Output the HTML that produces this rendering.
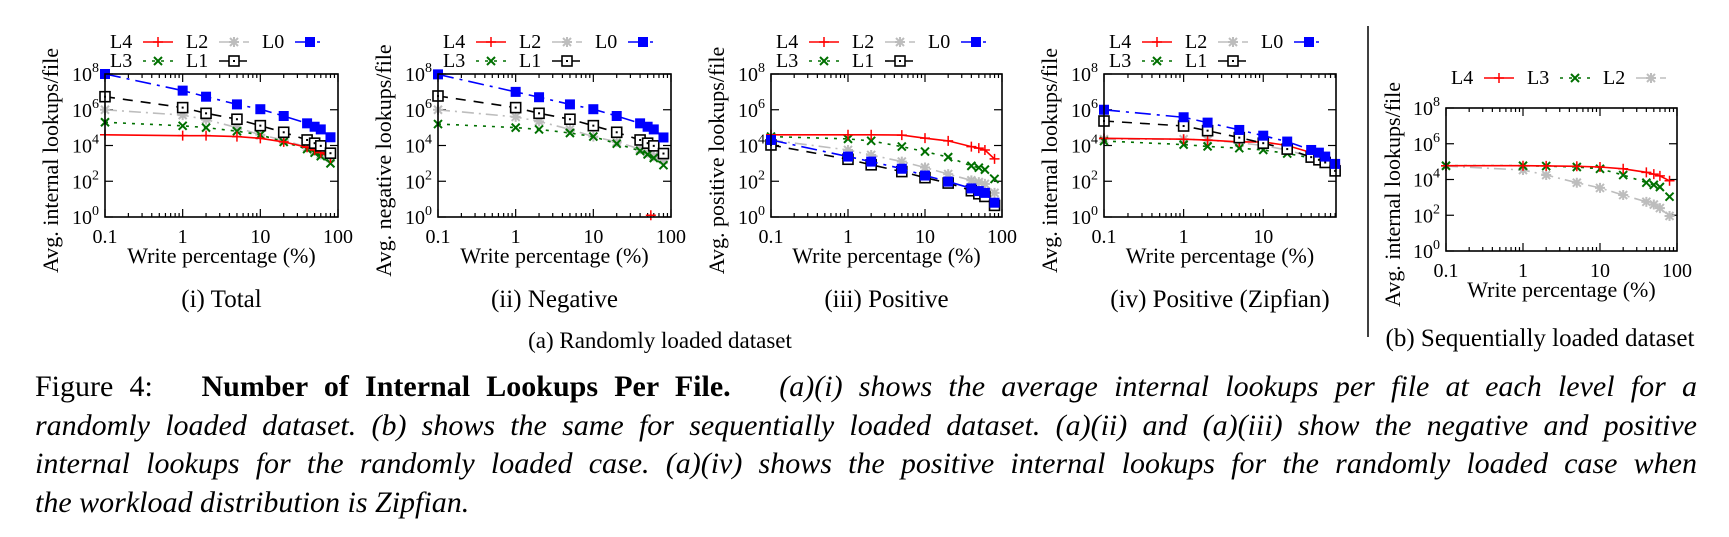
<!DOCTYPE html>
<html><head><meta charset="utf-8">
<style>
body{margin:0;background:#fff;width:1729px;height:537px;overflow:hidden;position:relative;font-family:"Liberation Serif","Times New Roman","DejaVu Serif","Noto Serif CJK SC",serif;}
svg{position:absolute;left:0;top:0;}
.cap{position:absolute;left:35px;width:1662px;font-size:30px;line-height:30px;white-space:nowrap;text-align:justify;text-align-last:justify;}
.cap.last{text-align-last:left;}
</style></head>
<body>
<svg id="fig" width="1729" height="537"></svg>
<div class="cap" style="top:372px">Figure 4: &nbsp; <b>Number of Internal Lookups Per File.</b> &nbsp; <i>(a)(i) shows the average internal lookups per file at each level for a</i></div>
<div class="cap" style="top:411px"><i>randomly loaded dataset. (b) shows the same for sequentially loaded dataset. (a)(ii) and (a)(iii) show the negative and positive</i></div>
<div class="cap" style="top:449px"><i>internal lookups for the randomly loaded case. (a)(iv) shows the positive internal lookups for the randomly loaded case when</i></div>
<div class="cap last" style="top:488px"><i>the workload distribution is Zipfian.</i></div>
<script>
// data (log10 of lookups/file)
const writePct = [0.1,1,2,5,10,20,40,50,60,80];
const yTicks = [0,2,4,6,8];
const xTickLabels = ["0.1","1","10","100"];
const total_L4 = [4.6,4.55,4.55,4.5,4.4,4.2,3.9,3.75,3.6,3.3];
const total_L3 = [5.3,5.1,5.0,4.8,4.6,4.2,3.8,3.6,3.4,3.0];
const total_L2 = [6.0,5.7,5.45,5.0,4.6,4.3,3.9,3.7,3.5,3.3];
const total_L1 = [6.73,6.12,5.8,5.47,5.11,4.74,4.31,4.13,3.98,3.57];
const total_L0 = [8.0,7.07,6.73,6.3,6.03,5.65,5.24,5.05,4.9,4.46];
const neg_L4x = [55];
const neg_L4 = [0.1];
const neg_L3 = [5.2,5.0,4.9,4.7,4.5,4.1,3.7,3.5,3.3,2.9];
const neg_L2 = [6.0,5.6,5.35,4.9,4.5,4.2,3.8,3.6,3.4,3.2];
const neg_L1 = [6.77,6.12,5.8,5.47,5.11,4.74,4.31,4.13,3.98,3.55];
const neg_L0 = [7.98,7.0,6.7,6.3,6.03,5.65,5.24,5.05,4.9,4.45];
const pos_L4 = [4.6,4.6,4.6,4.58,4.41,4.26,3.94,3.85,3.75,3.25];
const pos_L3 = [4.5,4.37,4.26,3.94,3.66,3.35,2.86,2.76,2.65,2.13];
const pos_L2 = [4.3,3.75,3.47,3.1,2.77,2.4,2.05,1.95,1.85,1.35];
const pos_L1 = [4.03,3.23,2.92,2.54,2.2,1.9,1.47,1.3,1.15,0.65];
const pos_L0 = [4.31,3.38,3.1,2.7,2.32,1.98,1.6,1.45,1.35,0.8];
const zipf_L4 = [4.4,4.35,4.3,4.2,4.2,4.0,3.6,3.5,3.35,2.95];
const zipf_L3 = [4.25,4.05,3.95,3.85,3.75,3.55,3.3,3.15,3.0,2.6];
const zipf_L2 = [4.35,4.35,4.3,4.15,4.0,3.75,3.35,3.2,3.05,2.6];
const zipf_L1 = [5.37,5.09,4.83,4.44,4.13,3.8,3.35,3.2,3.05,2.58];
const zipf_L0 = [6.0,5.58,5.28,4.87,4.55,4.22,3.75,3.6,3.38,2.97];
const seq_L4 = [4.77,4.77,4.76,4.74,4.7,4.6,4.4,4.3,4.2,3.93];
const seq_L3 = [4.77,4.77,4.75,4.7,4.6,4.25,3.82,3.7,3.58,3.04];
const seq_L2 = [4.75,4.53,4.25,3.82,3.53,3.13,2.75,2.6,2.4,1.96];

const NS="http://www.w3.org/2000/svg";
const svg=document.getElementById('fig');
const FONT='"Liberation Serif", "Times New Roman", "DejaVu Serif", "Noto Serif CJK SC", serif';
function mk(tag,attrs,parent){const e=document.createElementNS(NS,tag);for(const k in attrs)e.setAttribute(k,attrs[k]);
 if(tag==='text'){e.setAttribute('font-family',FONT);e.style.fontFamily=FONT;}
 (parent||svg).appendChild(e);return e;}
const styles={
 L4:{color:'#ff0000',dash:'',marker:'plus'},
 L3:{color:'#007000',dash:'3,6',marker:'cross'},
 L2:{color:'#bdbdbd',dash:'12,5,2,5',marker:'star'},
 L1:{color:'#000000',dash:'10,8',marker:'osq'},
 L0:{color:'#0000ff',dash:'16,6,3,6',marker:'fsq'}
};
function marker(g,type,x,y,c){
 if(type==='plus'){mk('path',{d:`M${x-5} ${y}H${x+5}M${x} ${y-5}V${y+5}`,stroke:c,'stroke-width':1.5},g);}
 else if(type==='cross'){mk('path',{d:`M${x-4} ${y-4}L${x+4} ${y+4}M${x-4} ${y+4}L${x+4} ${y-4}`,stroke:c,'stroke-width':2},g);}
 else if(type==='star'){mk('path',{d:`M${x-5} ${y}H${x+5}M${x} ${y-5}V${y+5}M${x-4} ${y-4}L${x+4} ${y+4}M${x-4} ${y+4}L${x+4} ${y-4}`,stroke:c,'stroke-width':2},g);}
 else if(type==='osq'){mk('rect',{x:x-5,y:y-5,width:10,height:10,fill:'#fff',stroke:c,'stroke-width':1.6},g);mk('rect',{x:x-1,y:y-1,width:2,height:2,fill:c},g);}
 else if(type==='fsq'){mk('rect',{x:x-5,y:y-5,width:10,height:10,fill:c},g);}
}
function panel(p){
 const g=mk('g',{});
 
 
 const L=p.left,T=p.top,W=p.width,H=p.height;
 const lx=Math.log10(0.1),rx=Math.log10(p.xmax);
 const X=v=>L+(Math.log10(v)-lx)/(rx-lx)*W;
 const Y=v=>T+H-(v/8)*H;
 const tk=mk('g',{stroke:'#000','stroke-width':1.2},g);
 
 
 for(let d=-1;d<=2;d++){for(let m=1;m<10;m++){const v=m*Math.pow(10,d);if(v<0.1||v>p.xmax+1e-9)continue;const x=X(v);const len=m===1?8:4;
   mk('line',{x1:x,y1:T+H,x2:x,y2:T+H-len},tk);mk('line',{x1:x,y1:T,x2:x,y2:T+len},tk);}}
 yTicks.forEach(t=>{const y=Y(t);mk('line',{x1:L,y1:y,x2:L+8,y2:y},tk);mk('line',{x1:L+W,y1:y,x2:L+W-8,y2:y},tk);
   const tx=mk('text',{x:L-6,y:y+7,'text-anchor':'end','font-size':20},g);
   
   
   tx.textContent='10';const s=mk('tspan',{dy:-9,'font-size':14},tx);s.textContent=String(t);});
 xTickLabels.forEach(l=>{const v=parseFloat(l);if(v>p.xmax+1e-9)return;const t=mk('text',{x:X(v),y:T+H+26,'text-anchor':'middle','font-size':20},g);
   
   
   t.textContent=l;});
 p.series.forEach(s=>{const st=styles[s.key];const xs=s.x||writePct;
   const sg=mk('g',{},g);
   
   
   if(xs.length>1){const pts=xs.map((x,i)=>X(x).toFixed(1)+','+Y(s.v[i]).toFixed(1)).join(' ');
     const a={points:pts,fill:'none',stroke:st.color,'stroke-width':1.6};if(st.dash)a['stroke-dasharray']=st.dash;mk('polyline',a,sg);}
   xs.forEach((x,i)=>marker(sg,st.marker,X(x),Y(s.v[i]),st.color));});
 mk('rect',{x:L,y:T,width:W,height:H,fill:'none',stroke:'#000','stroke-width':1.6},g);
 const xt=mk('text',{x:L+W/2,y:T+H+46,'text-anchor':'middle','font-size':22},g);
 
 
 xt.textContent='Write percentage (%)';
 const yx=p.ytx,yy=T+H/2+15;
 const yt=mk('text',{x:yx,y:yy,'text-anchor':'middle','font-size':22,transform:`rotate(-90 ${yx} ${yy})`},g);
 
 
 yt.textContent=p.ytitle;
 p.legend.forEach((k,i)=>{const st=styles[k];const col=p.legendRow? i: i%3;const row=p.legendRow?0:Math.floor(i/3);
   const bx=L+5+col*76, by=p.legendY+row*19;
   const lg=mk('g',{},g);
   
   
   const t=mk('text',{x:bx,y:by,'font-size':20},lg);t.textContent=k;
   const a={x1:bx+33,y1:by-6,x2:bx+63,y2:by-6,stroke:st.color,'stroke-width':1.6};if(st.dash)a['stroke-dasharray']=st.dash;mk('line',a,lg);
   marker(lg,st.marker,bx+48,by-6,st.color);});
 if(p.sub){const t=mk('text',{x:L+W/2+(p.subdx||0),y:p.subY,'text-anchor':'middle','font-size':25},g);
   
   
   t.textContent=p.sub;}
}
const legA=['L4','L2','L0','L3','L1'];
panel({name:'panel-total',left:105,top:74,width:233,height:143,xmax:100,ytx:58,ytitle:'Avg. internal lookups/file',legend:legA,legendY:48,sub:'(i) Total',subY:307,
 series:[{key:'L2',v:total_L2},{key:'L3',v:total_L3},{key:'L4',v:total_L4},{key:'L1',v:total_L1},{key:'L0',v:total_L0}]});
panel({name:'panel-negative',left:438,top:74,width:233,height:143,xmax:100,ytx:391,ytitle:'Avg. negative lookups/file',legend:legA,legendY:48,sub:'(ii) Negative',subY:307,
 series:[{key:'L2',v:neg_L2},{key:'L3',v:neg_L3},{key:'L4',v:neg_L4,x:neg_L4x},{key:'L1',v:neg_L1},{key:'L0',v:neg_L0}]});
panel({name:'panel-positive',left:771,top:74,width:231,height:143,xmax:100,ytx:724,ytitle:'Avg. positive lookups/file',legend:legA,legendY:48,sub:'(iii) Positive',subY:307,
 series:[{key:'L2',v:pos_L2},{key:'L3',v:pos_L3},{key:'L4',v:pos_L4},{key:'L1',v:pos_L1},{key:'L0',v:pos_L0}]});
panel({name:'panel-positive-zipfian',left:1104,top:74,width:232,height:143,xmax:82,ytx:1057,ytitle:'Avg. internal lookups/file',legend:legA,legendY:48,sub:'(iv) Positive (Zipfian)',subY:307,
 series:[{key:'L2',v:zipf_L2},{key:'L3',v:zipf_L3},{key:'L4',v:zipf_L4},{key:'L1',v:zipf_L1},{key:'L0',v:zipf_L0}]});
panel({name:'panel-sequential',left:1446,top:108,width:231,height:143,xmax:100,ytx:1400,ytitle:'Avg. internal lookups/file',legend:['L4','L3','L2'],legendRow:true,legendY:84,
 series:[{key:'L2',v:seq_L2},{key:'L3',v:seq_L3},{key:'L4',v:seq_L4}]});
const sep=mk('line',{x1:1368,y1:26,x2:1368,y2:337,stroke:'#000','stroke-width':1.5});


const ca=mk('text',{x:660,y:348,'text-anchor':'middle','font-size':23});


ca.textContent='(a) Randomly loaded dataset';
const cb=mk('text',{x:1540,y:346,'text-anchor':'middle','font-size':25});


cb.textContent='(b) Sequentially loaded dataset';
</script>
</body></html>
